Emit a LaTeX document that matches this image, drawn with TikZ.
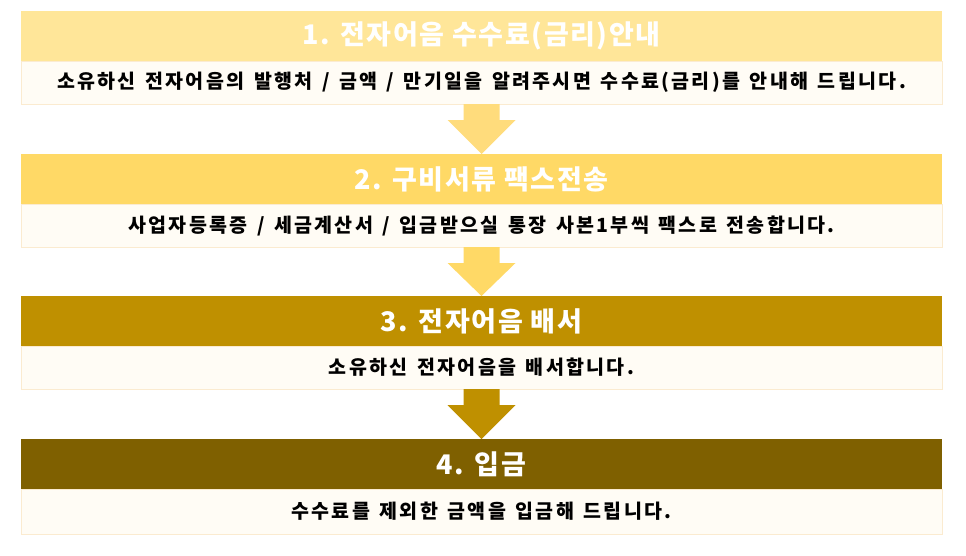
\documentclass[tikz,border=0pt]{standalone}
\usepackage{fontspec}
\setmainfont{Noto Sans CJK KR}
\newfontfamily\headfont{Noto Sans CJK KR}[LetterSpace=6]
\newfontfamily\bodyfont{Noto Sans CJK KR}[LetterSpace=12, WordSpace=1.4]
\usetikzlibrary{calc}
\definecolor{hA}{HTML}{FFE699}
\definecolor{hB}{HTML}{FFD966}
\definecolor{hC}{HTML}{BF9000}
\definecolor{hD}{HTML}{7F6000}
\definecolor{aA}{HTML}{FFDC7C}
\definecolor{bodyfill}{HTML}{FFFCF5}
\definecolor{bodyline}{HTML}{FBEBD0}
\tikzset{
  x=1pt, y=-1pt,
  head/.style={minimum width=921pt, minimum height=50pt, inner sep=0pt, outer sep=0pt,
    text=white, font=\headfont\fontsize{27}{30}\selectfont\bfseries},
  bodybox/.style={draw=bodyline, line width=0.8pt, fill=bodyfill, minimum width=921pt, minimum height=43pt,
    inner sep=0pt, outer sep=0pt, text=black, font=\bodyfont\fontsize{19.5}{22}\selectfont\bfseries}
}
\begin{document}
\begin{tikzpicture}
\useasboundingbox[fill=white] (0,0) rectangle (966,555);
\node[head, fill=hA, anchor=north west] (h1) at (21,11) {1. 전자어음 수수료(금리)안내};
\node[bodybox, anchor=north] (b1) at (h1.south) {소유하신 전자어음의 발행처 / 금액 / 만기일을 알려주시면 수수료(금리)를 안내해 드립니다.};
\node[head, fill=hB, anchor=north west] (h2) at (21,154) {2. 구비서류 팩스전송};
\node[bodybox, anchor=north] (b2) at (h2.south) {사업자등록증 / 세금계산서 / 입금받으실 통장 사본1부씩 팩스로 전송합니다.};
\node[head, fill=hC, anchor=north west] (h3) at (21,296) {3. 전자어음 배서};
\node[bodybox, anchor=north] (b3) at (h3.south) {소유하신 전자어음을 배서합니다.};
\node[head, fill=hD, anchor=north west] (h4) at (21,439) {4. 입금};
\node[bodybox, minimum height=45pt, anchor=north] (b4) at (h4.south) {수수료를 제외한 금액을 입금해 드립니다.};
\foreach \a/\b/\c in {b1/h2/aA, b2/h3/hB, b3/h4/hC}{
  \fill[\c] ($(\a.south)+(-18,0)$) -- ($(\a.south)+(18,0)$) -- ($(\a.south)+(18,16)$) -- ($(\a.south)+(34,16)$)
     -- (\b.north) -- ($(\a.south)+(-34,16)$) -- ($(\a.south)+(-18,16)$) -- cycle;
}
\end{tikzpicture}
\end{document}
